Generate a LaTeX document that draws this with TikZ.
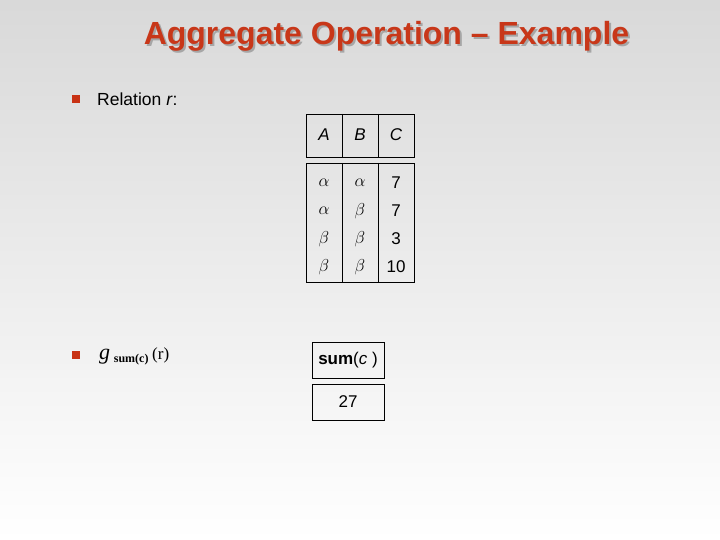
\documentclass[tikz,border=0pt]{standalone}
\usepackage{fontspec}
\setmainfont{Liberation Sans}
\newfontfamily\timesf{Liberation Serif}
\usetikzlibrary{positioning}
\definecolor{titlered}{RGB}{200,55,25}
\definecolor{bul}{RGB}{200,50,20}
\begin{document}
\begin{tikzpicture}[x=1pt,y=-1pt,
  cell/.style={draw=black,line width=0.8pt},
  txt/.style={font=\fontsize{17}{19}\selectfont,inner sep=0pt},
  bullet/.style={fill=bul,minimum size=8.5pt,inner sep=0pt}]
\useasboundingbox (0,0) rectangle (720,540);
\shade[top color=black!15,bottom color=white] (0,0) rectangle (720,540);
% title
\node[text=black!35,font=\bfseries\fontsize{32}{34}\selectfont] at (388.5,38) {Aggregate Operation -- Example};
\node (title) [text=titlered,font=\bfseries\fontsize{32}{34}\selectfont] at (386.5,36) {Aggregate Operation -- Example};
% bullets
\node (b1) [bullet] at (76,99) {};
\node (t1) [txt,font=\fontsize{17.5}{19}\selectfont,anchor=west] at (97,99) {Relation \textit{r}:};
\node (b2) [bullet] at (76,355) {};
\node (t2) [inner sep=0pt,anchor=west,font=\timesf] at (99,356) {\fontsize{22}{22}\selectfont\textit{g}\,\raisebox{-3pt}{\fontsize{12}{12}\selectfont\textbf{sum(c)}}\,\fontsize{17}{17}\selectfont(r)};
% table header
\draw[cell] (306,114) rectangle (414,157);
\draw[cell] (342,114) -- (342,157) (378,114) -- (378,157);
\node (hA) [txt] at (324,135) {\textit{A}};
\node (hB) [txt] at (360,135) {\textit{B}};
\node (hC) [txt] at (396,135) {\textit{C}};
% body
\draw[cell] (306,163) rectangle (414,282);
\draw[cell] (342,163) -- (342,282) (378,163) -- (378,282);
\foreach \y/\a/\b/\c [count=\i] in {183/\alpha/\alpha/7,211/\alpha/\beta/7,239/\beta/\beta/3,267/\beta/\beta/10}{
  \node (ra\i) [txt] at (324,\y) {$\a$};
  \node (rb\i) [txt] at (360,\y) {$\b$};
  \node (rc\i) [txt] at (396,\y) {\c};
}
% result
\draw[cell] (312,342) rectangle (384,378);
\node (sh) [txt] at (348,360) {\textbf{sum}(\textit{c} )};
\draw[cell] (312,384) rectangle (384,420);
\node (sv) [txt] at (348,402) {27};
\end{tikzpicture}
\end{document}
